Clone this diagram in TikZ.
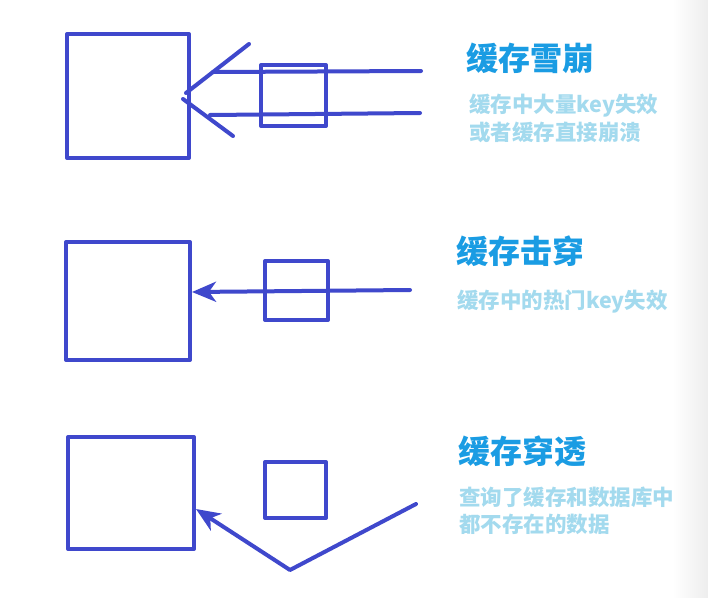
\documentclass[tikz,border=0pt]{standalone}
\usepackage{fontspec}
\newfontfamily\cjk{Noto Sans CJK SC}
\usetikzlibrary{arrows.meta}
\definecolor{ink}{HTML}{3F48CC}
\definecolor{headblue}{HTML}{1A9CE3}
\definecolor{noteblue}{HTML}{A3DAEE}
\tikzset{
  line/.style={draw=ink, line width=4pt, line cap=round, line join=round},
  store/.style={line, rectangle, inner sep=0pt},
  arrowline/.style={line, -{Stealth[length=24pt 0, width=20pt 0, inset=7pt 0]}},
  heading/.style={anchor=base west, inner sep=0pt, text=headblue,
    font=\cjk\bfseries\fontsize{32}{32}\selectfont},
  note/.style={anchor=base west, inner sep=0pt, text=noteblue,
    font=\cjk\bfseries\fontsize{21.5}{28}\selectfont},
}
\begin{document}
\begin{tikzpicture}[x=1pt, y=-1pt]
\useasboundingbox (0,0) rectangle (708,597);
\fill[white] (0,0) rectangle (708,597);
\shade[left color=white, right color=black!7] (672,0) rectangle (708,597);

% --- cache avalanche ---
\node[store, minimum width=122pt, minimum height=124pt] (db1) at (128,96) {};
\node[store, minimum width=65pt, minimum height=61pt] (c1) at (293.5,95.5) {};
\coordinate (s1a) at (421,71);
\coordinate (e1a) at (213,72);
\coordinate (s1b) at (420,113);
\coordinate (e1b) at (210,115);
\coordinate (v1up) at (249,44);
\coordinate (v1tip) at (186,93);
\coordinate (v1lo) at (183,99);
\coordinate (v1end) at (233,136);
\draw[line] (s1a) -- (e1a);
\draw[line] (s1b) -- (e1b);
\draw[line] (v1up) -- (v1tip);
\draw[line] (v1lo) -- (v1end);
\node[heading] (h1) at (466,70) {缓存雪崩};
\node[note] (n1a) at (469,112) {缓存中大量key失效};
\node[note] (n1b) at (469,140) {或者缓存直接崩溃};

% --- cache breakdown ---
\node[store, minimum width=124pt, minimum height=118pt] (db2) at (128,301) {};
\node[store, minimum width=63pt, minimum height=59pt] (c2) at (296.5,290.5) {};
\coordinate (s2) at (410,290);
\coordinate (t2) at (192,292);
\draw[arrowline] (s2) -- (t2);
\node[heading] (h2) at (456,263) {缓存击穿};
\node[note] (n2) at (457,308) {缓存中的热门key失效};

% --- cache penetration ---
\node[store, minimum width=126pt, minimum height=112pt] (db3) at (131,493) {};
\node[store, minimum width=61pt, minimum height=56pt] (c3) at (295.5,490) {};
\coordinate (s3) at (416,504);
\coordinate (k3) at (290,570);
\coordinate (t3) at (196,509);
\draw[arrowline] (s3) -- (k3) -- (t3);
\node[heading] (h3) at (458,463) {缓存穿透};
\node[note] (n3a) at (459,505) {查询了缓存和数据库中};
\node[note] (n3b) at (459,532) {都不存在的数据};
\end{tikzpicture}
\end{document}
